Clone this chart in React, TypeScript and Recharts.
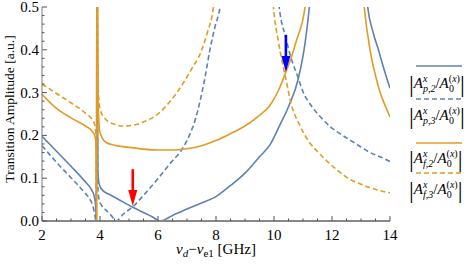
import React from 'react';
import { LineChart, Line, XAxis, YAxis, Legend, Label } from 'recharts';

const BLUE = '#5e81b5';
const ORANGE = '#e19c24';
const FONT = '"Liberation Serif", "Times New Roman", serif';

// detuning (GHz) and amplitude pairs; null breaks a line at a pole
const ampP2: [number, number | null][] = [
  [2.0, 0.198], [2.5, 0.163], [3.0, 0.128], [3.5, 0.091], [3.7, 0.074], [3.8, 0.058],
  [3.85, 0.035], [3.875, 0], [3.893, 0.6], [3.907, 0.6], [3.925, 0.12], [3.96, 0.09],
  [4.0, 0.081], [4.1, 0.071], [4.3, 0.063], [4.6, 0.052], [5.13, 0.032], [5.5, 0.02],
  [5.8, 0.01], [6.07, 0], [6.5, 0.013], [7.0, 0.028], [7.5, 0.042], [8.0, 0.057],
  [8.5, 0.083], [9.0, 0.112], [9.5, 0.15], [9.86, 0.178], [10.2, 0.224], [10.5, 0.267],
  [10.84, 0.333], [11.07, 0.415], [11.22, 0.5], [11.35, 0.6], [12.2, null],
  [13.1, 0.6], [13.23, 0.5], [13.42, 0.44], [13.6, 0.4], [13.77, 0.36], [14.0, 0.31],
];

const ampP3: [number, number | null][] = [
  [2.0, 0.176], [2.5, 0.137], [3.0, 0.101], [3.5, 0.064], [3.66, 0.05], [3.75, 0.036],
  [3.82, 0.015], [3.86, 0], [3.89, 0.2], [3.91, 0.2], [3.93, 0.07], [3.97, 0.05],
  [4.05, 0.037], [4.2, 0.026], [4.4, 0.012], [4.55, 0], [4.8, 0.016], [5.13, 0.033],
  [5.5, 0.06], [5.95, 0.095], [6.4, 0.133], [6.87, 0.172], [7.1, 0.203], [7.3, 0.24],
  [7.45, 0.28], [7.62, 0.335], [7.79, 0.4], [7.97, 0.455], [8.14, 0.5], [8.3, 0.6],
  [9.2, null],
  [10.05, 0.6], [10.18, 0.5], [10.4, 0.43], [10.55, 0.39], [10.84, 0.333], [11.0, 0.302],
  [11.3, 0.268], [11.59, 0.244], [11.93, 0.221], [12.3, 0.203], [12.62, 0.189],
  [13.0, 0.173], [13.31, 0.16], [13.7, 0.149], [14.0, 0.139],
];

const ampF2: [number, number | null][] = [
  [2.0, 0.296], [2.5, 0.263], [3.0, 0.241], [3.5, 0.222], [3.7, 0.212], [3.8, 0.203],
  [3.85, 0.19], [3.87, 0.14], [3.885, 0], [3.897, 0.6], [3.905, 0.6], [3.93, 0.29],
  [3.97, 0.225], [4.0, 0.207], [4.2, 0.184], [4.5, 0.177], [5.0, 0.172], [5.5, 0.168],
  [6.0, 0.166], [6.5, 0.166], [7.0, 0.169], [7.5, 0.176], [8.0, 0.188], [8.5, 0.204],
  [9.0, 0.222], [9.5, 0.247], [9.86, 0.27], [10.2, 0.312], [10.34, 0.336], [10.6, 0.383],
  [10.78, 0.423], [11.07, 0.5], [11.2, 0.6], [12.1, null],
  [12.98, 0.6], [13.11, 0.5], [13.31, 0.4], [13.5, 0.34], [13.66, 0.3], [13.85, 0.267],
  [14.0, 0.243],
];

const ampF3: [number, number | null][] = [
  [2.0, 0.32], [2.5, 0.298], [3.0, 0.276], [3.5, 0.252], [3.7, 0.24], [3.8, 0.229],
  [3.85, 0.212], [3.875, 0.17], [3.888, 0], [3.898, 0.6], [3.906, 0.6], [3.93, 0.33],
  [3.97, 0.275], [4.0, 0.262], [4.2, 0.237], [4.5, 0.226], [4.8, 0.222], [5.15, 0.224],
  [5.45, 0.23], [5.72, 0.238], [6.0, 0.25], [6.41, 0.279], [6.87, 0.322], [7.2, 0.36],
  [7.45, 0.39], [7.7, 0.44], [7.91, 0.5], [8.05, 0.6], [9.0, null],
  [9.88, 0.6], [9.98, 0.5], [10.15, 0.42], [10.32, 0.36], [10.44, 0.322], [10.55, 0.285],
  [10.9, 0.222], [11.2, 0.186], [11.59, 0.156], [12.16, 0.12], [12.62, 0.097],
  [13.0, 0.086], [13.31, 0.078], [13.7, 0.07], [14.0, 0.066],
];

// arrows: [x, tail, head]
const redArrow = [5.13, 0.121, 0.035];
const blueArrow = [10.41, 0.435, 0.348];

const xTicks = [2, 2.5, 3, 3.5, 4, 4.5, 5, 5.5, 6, 6.5, 7, 7.5, 8, 8.5, 9, 9.5, 10, 10.5, 11, 11.5, 12, 12.5, 13, 13.5, 14];
const xLabels = [2, 4, 6, 8, 10, 12, 14];
const yTicks = [0, 0.02, 0.04, 0.06, 0.08, 0.1, 0.12, 0.14, 0.16, 0.18, 0.2, 0.22, 0.24, 0.26, 0.28, 0.3,
  0.32, 0.34, 0.36, 0.38, 0.4, 0.42, 0.44, 0.46, 0.48, 0.5];
const yLabels = [0, 0.1, 0.2, 0.3, 0.4, 0.5];

const legendItems = [
  { sub: 'p,2', color: BLUE, dashed: false },
  { sub: 'p,3', color: BLUE, dashed: true },
  { sub: 'f,2', color: ORANGE, dashed: false },
  { sub: 'f,3', color: ORANGE, dashed: true },
];

const toRows = (pts: [number, number | null][]) => pts.map(([f, v]) => ({ f, v }));
const isMajorY = (v: number) => yLabels.some((l) => Math.abs(l - v) < 1e-6);

const BottomTick = ({ x, y, payload }: any) => {
  const major = xLabels.includes(payload.value);
  return (
    <g>
      <line x1={x} x2={x} y1={y} y2={y - (major ? 5 : 2.5)} stroke="#555" />
      {major && (
        <text x={x} y={y + 18.5} textAnchor="middle" fontFamily={FONT} fontSize={15} fill="#000">
          {payload.value}
        </text>
      )}
    </g>
  );
};

const TopTick = ({ x, y, payload }: any) => {
  const major = xLabels.includes(payload.value);
  return <line x1={x} x2={x} y1={y} y2={y + (major ? 5 : 2.5)} stroke="#555" />;
};

const LeftTick = ({ x, y, payload }: any) => {
  const major = isMajorY(payload.value);
  return (
    <g>
      <line x1={x} x2={x + (major ? 5 : 2.5)} y1={y} y2={y} stroke="#555" />
      {major && (
        <text x={x - 3} y={y + 5} textAnchor="end" fontFamily={FONT} fontSize={15} fill="#000">
          {payload.value.toFixed(1)}
        </text>
      )}
    </g>
  );
};

const RightTick = ({ x, y, payload }: any) => {
  const major = isMajorY(payload.value);
  return <line x1={x} x2={x - (major ? 5 : 2.5)} y1={y} y2={y} stroke="#555" />;
};

const XTitle = ({ viewBox }: any) => (
  <text x={viewBox.x + viewBox.width / 2} y={viewBox.y + 33} textAnchor="middle" fontFamily={FONT} fontSize={15} fill="#000">
    <tspan fontStyle="italic">ν</tspan>
    <tspan fontStyle="italic" fontSize={11} dy={3}>d</tspan>
    <tspan dy={-3}>−</tspan>
    <tspan fontStyle="italic">ν</tspan>
    <tspan fontSize={11} dy={3}>e1</tspan>
    <tspan dy={-3}> [GHz]</tspan>
  </text>
);

const YTitle = () => (
  <text x={0} y={0} transform="translate(14 109) rotate(-90)" textAnchor="middle" fontFamily={FONT} fontSize={13.5} fill="#000">
    Transition Amplitude [a.u.]
  </text>
);

const legendLineY = [11, 44, 88, 118];
const legendTextY = [33, 65, 108, 139];

const AmpLabel = ({ y, sub }: { y: number; sub: string }) => (
  <text x={16} y={y} fontFamily={FONT} fontSize={15} fill="#000">
    <tspan fontSize={24} dy={4}>|</tspan>
    <tspan fontStyle="italic" dy={-4}>A</tspan>
    <tspan fontStyle="italic" fontSize={10} dy={-6}>x</tspan>
    <tspan fontStyle="italic" fontSize={10} dx={-4.5} dy={10}>{sub}</tspan>
    <tspan dy={-4}>/</tspan>
    <tspan fontStyle="italic">A</tspan>
    <tspan fontSize={10} dy={-6}>(</tspan>
    <tspan fontSize={10} fontStyle="italic">x</tspan>
    <tspan fontSize={10}>)</tspan>
    <tspan fontSize={10} dx={-11} dy={10}>0</tspan>
    <tspan fontSize={24} dx={6}>|</tspan>
  </text>
);

const renderLegend = () => (
  <svg width={78} height={150} style={{ display: 'block', overflow: 'visible' }}>
    {legendItems.map((item, i) => (
      <g key={item.sub}>
        <line
          x1={23}
          x2={69}
          y1={legendLineY[i]}
          y2={legendLineY[i]}
          stroke={item.color}
          strokeWidth={1.6}
          strokeDasharray={item.dashed ? '5 3' : undefined}
        />
        <AmpLabel y={legendTextY[i]} sub={item.sub} />
      </g>
    ))}
  </svg>
);

// arrow head drawn at the second (head) point of the arrow series
const arrowHead = (color: string) => (props: any) => {
  const { cx, cy, index } = props;
  if (index !== 1 || cx == null) return <g key={`h${index}`} />;
  return <path key={`h${index}`} d={`M${cx},${cy} L${cx - 4.5},${cy - 16} L${cx + 4.5},${cy - 16} Z`} fill={color} />;
};

const arrowLine = (color: string, pts: number[]) => (
  <Line
    data={[{ f: pts[0], v: pts[1] }, { f: pts[0], v: pts[2] }]}
    dataKey="v"
    stroke={color}
    strokeWidth={2.6}
    strokeDasharray="24 100"
    dot={arrowHead(color)}
    legendType="none"
    isAnimationActive={false}
  />
);

export default function App() {
  return (
    <div style={{ position: 'absolute', left: 0, top: 0 }}>
      <LineChart width={471} height={265} margin={{ top: 7, right: 3, bottom: 0, left: 0 }}>
        <XAxis
          xAxisId={0}
          type="number"
          dataKey="f"
          domain={[2, 14]}
          allowDataOverflow
          ticks={xTicks}
          interval={0}
          tickSize={0}
          tickMargin={0}
          tickLine={false}
          tick={<BottomTick />}
          height={44}
          axisLine={{ stroke: '#888', strokeWidth: 2 }}
        >
          <Label content={<XTitle />} />
        </XAxis>
        <XAxis
          xAxisId="top"
          orientation="top"
          type="number"
          dataKey="f"
          domain={[2, 14]}
          allowDataOverflow
          ticks={xTicks}
          interval={0}
          tickSize={0}
          tickMargin={0}
          tickLine={false}
          tick={<TopTick />}
          height={0}
          axisLine={{ stroke: '#222' }}
        />
        <YAxis
          yAxisId={0}
          domain={[0, 0.5]}
          allowDataOverflow
          ticks={yTicks}
          interval={0}
          tickSize={0}
          tickMargin={0}
          tickLine={false}
          tick={<LeftTick />}
          width={42}
          axisLine={{ stroke: '#777' }}
        >
          <Label content={<YTitle />} />
        </YAxis>
        <YAxis
          yAxisId="right"
          orientation="right"
          domain={[0, 0.5]}
          allowDataOverflow
          ticks={yTicks}
          interval={0}
          tickSize={0}
          tickMargin={0}
          tickLine={false}
          tick={<RightTick />}
          width={0}
          axisLine={{ stroke: '#777' }}
        />
        <Legend
          layout="vertical"
          align="right"
          verticalAlign="top"
          width={78}
          height={150}
          content={renderLegend}
          wrapperStyle={{ left: 393, top: 55, right: 'auto' }}
        />
        <Line data={toRows(ampP2)} dataKey="v" name="p,2" type="monotone" stroke={BLUE} strokeWidth={1.6} dot={false} isAnimationActive={false} />
        <Line data={toRows(ampP3)} dataKey="v" name="p,3" type="monotone" stroke={BLUE} strokeWidth={1.6} strokeDasharray="5 3" dot={false} isAnimationActive={false} />
        <Line data={toRows(ampF2)} dataKey="v" name="f,2" type="monotone" stroke={ORANGE} strokeWidth={1.6} dot={false} isAnimationActive={false} />
        <Line data={toRows(ampF3)} dataKey="v" name="f,3" type="monotone" stroke={ORANGE} strokeWidth={1.6} strokeDasharray="5 3" dot={false} isAnimationActive={false} />
        {arrowLine('#ff0000', redArrow)}
        {arrowLine('#0000ff', blueArrow)}
      </LineChart>
    </div>
  );
}
